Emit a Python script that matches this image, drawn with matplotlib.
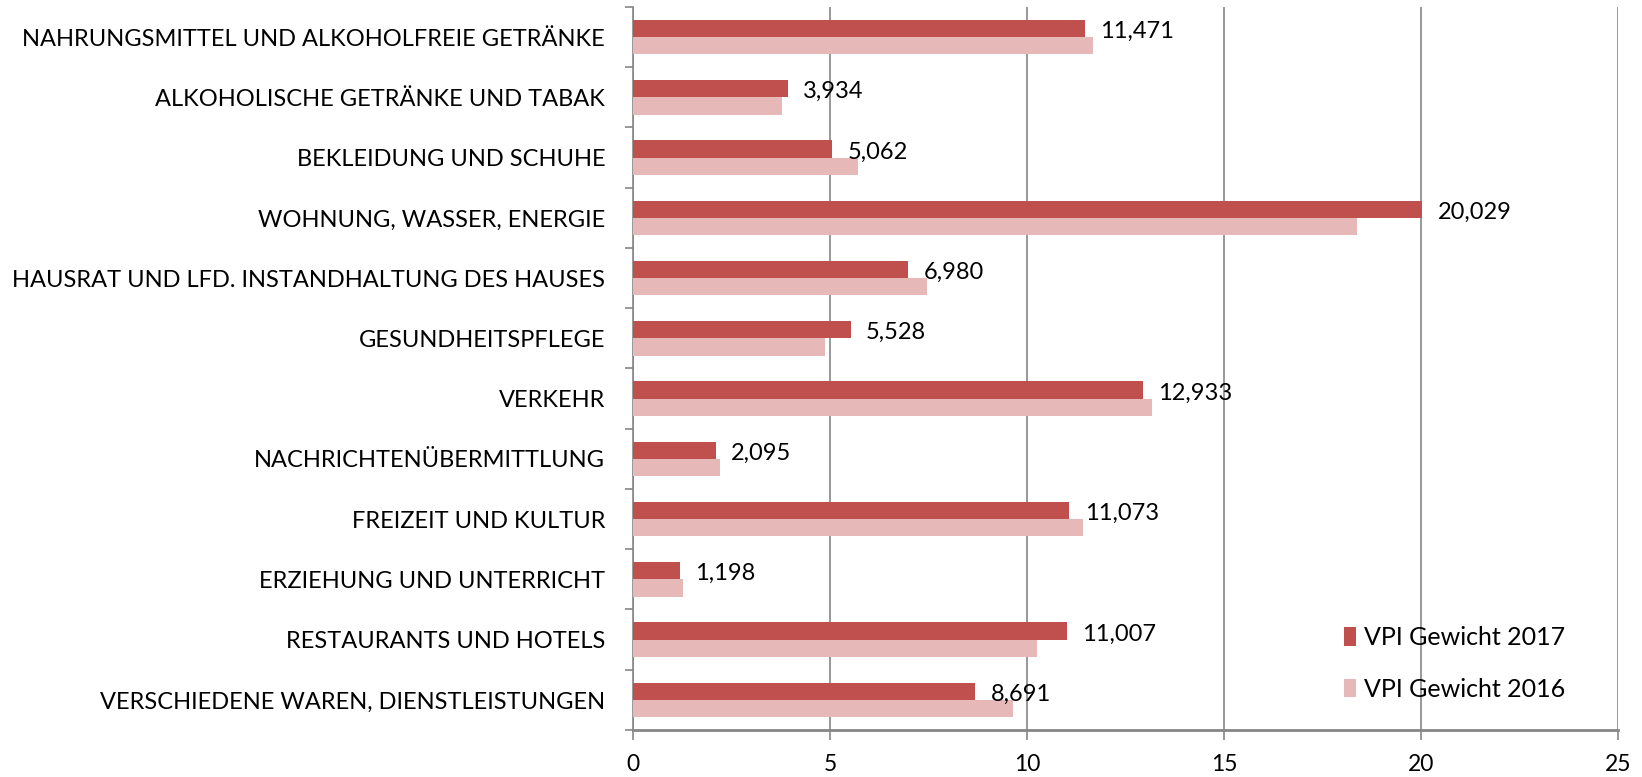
import matplotlib.pyplot as plt
import numpy as np

plt.rcParams['font.family'] = ['Lato', 'DejaVu Sans']

categories = ['NAHRUNGSMITTEL UND ALKOHOLFREIE GETRÄNKE', 'ALKOHOLISCHE GETRÄNKE UND TABAK',
              'BEKLEIDUNG UND SCHUHE', 'WOHNUNG, WASSER, ENERGIE',
              'HAUSRAT UND LFD. INSTANDHALTUNG DES HAUSES', 'GESUNDHEITSPFLEGE', 'VERKEHR',
              'NACHRICHTENÜBERMITTLUNG', 'FREIZEIT UND KULTUR', 'ERZIEHUNG UND UNTERRICHT',
              'RESTAURANTS UND HOTELS', 'VERSCHIEDENE WAREN, DIENSTLEISTUNGEN']
vpi_2017 = [11.471, 3.934, 5.062, 20.029, 6.980, 5.528, 12.933, 2.095, 11.073, 1.198, 11.007, 8.691]
vpi_2016 = [11.67, 3.79, 5.72, 18.37, 7.46, 4.86, 13.18, 2.22, 11.43, 1.27, 10.26, 9.64]
xticks = [0, 5, 10, 15, 20, 25]

c17 = '#C0504D'
c16 = '#E6B9B8'
grey = '#868686'

fig = plt.figure(figsize=(16.42, 7.77), dpi=100)
ax = fig.add_axes([0.3855, 0.0605, 0.6, 0.9305])

n = len(categories)
y = np.arange(n)[::-1]
h = 0.285
ax.barh(y + h / 2, vpi_2017, height=h, color=c17, label='VPI Gewicht 2017', zorder=3)
ax.barh(y - h / 2, vpi_2016, height=h, color=c16, label='VPI Gewicht 2016', zorder=3)

for yi, v in zip(y, vpi_2017):
    ax.annotate(f'{v:.3f}'.replace('.', ','), (v, yi + h / 2 - 0.05), xytext=(11, 0),
                textcoords='offset points', va='center', ha='left', fontsize=17)

ax.set_xlim(0, 25)
ax.set_ylim(-0.5, n - 0.5)
ax.set_xticks(xticks)
ax.set_xticklabels([str(t) for t in xticks], fontsize=16.5)
ax.set_yticks(y)
ax.set_yticklabels(categories, fontsize=17)
ax.tick_params(axis='y', length=0, pad=20)
ax.set_yticks(np.arange(n + 1) - 0.5, minor=True)
ax.tick_params(axis='y', which='minor', length=6, color=grey, width=1.2)
ax.tick_params(axis='x', length=7, color=grey, width=1.2, pad=10)
ax.xaxis.grid(True, color=grey, linewidth=1.2, zorder=0)
ax.set_axisbelow(True)
for s in ['top', 'right']:
    ax.spines[s].set_visible(False)
ax.spines['left'].set_color(grey)
ax.spines['left'].set_linewidth(1.2)
ax.spines['bottom'].set_color(grey)
ax.spines['bottom'].set_linewidth(2)

fig.legend(loc='upper left', bbox_to_anchor=(0.8185, 0.194), frameon=False, fontsize=18,
           handlelength=0.5, handleheight=0.75, handletextpad=0.3, labelspacing=1.14,
           borderpad=0, borderaxespad=0)

fig.savefig('out.png', dpi=100)
